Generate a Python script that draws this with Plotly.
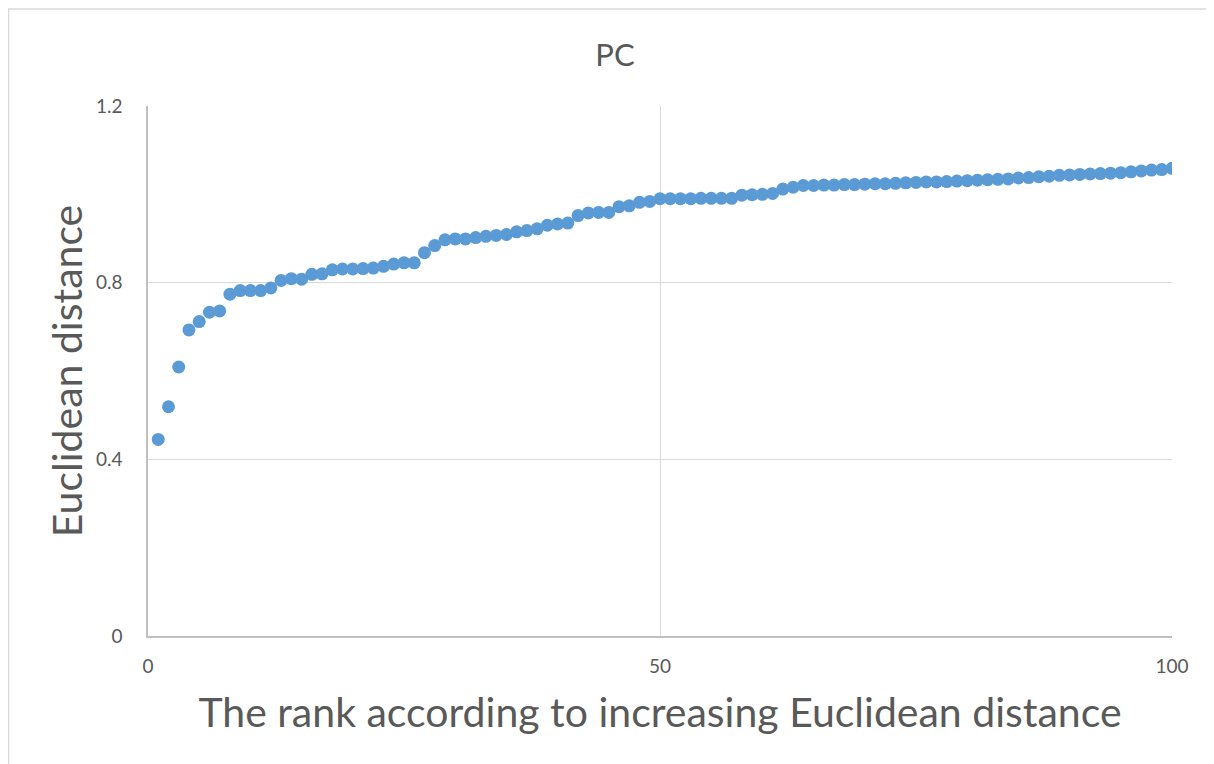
import plotly.graph_objects as go

ranks = list(range(1, 101))
distances = [
    0.445, 0.519, 0.609, 0.693, 0.712, 0.733, 0.736, 0.774, 0.782, 0.782,
    0.782, 0.788, 0.805, 0.809, 0.808, 0.819, 0.820, 0.829, 0.831, 0.831,
    0.832, 0.833, 0.837, 0.842, 0.845, 0.845, 0.868, 0.884, 0.897, 0.899,
    0.899, 0.902, 0.905, 0.907, 0.909, 0.915, 0.918, 0.922, 0.930, 0.933,
    0.935, 0.952, 0.958, 0.959, 0.959, 0.972, 0.974, 0.982, 0.984, 0.990,
    0.990, 0.990, 0.990, 0.991, 0.991, 0.991, 0.991, 0.998, 0.999, 1.000,
    1.002, 1.012, 1.016, 1.020, 1.020, 1.021, 1.021, 1.022, 1.022, 1.023,
    1.024, 1.024, 1.025, 1.026, 1.027, 1.028, 1.028, 1.029, 1.030, 1.031,
    1.032, 1.033, 1.034, 1.035, 1.037, 1.038, 1.040, 1.041, 1.043, 1.044,
    1.045, 1.046, 1.047, 1.048, 1.049, 1.051, 1.053, 1.055, 1.056, 1.059,
]
x_ticks = [0, 50, 100]
y_ticks = [0, 0.4, 0.8, 1.2]
y_tick_labels = ["0", "0.4", "0.8", "1.2"]

FONT = "Lato"
TXT = "#595959"

fig = go.Figure()
fig.add_trace(go.Scatter(
    x=ranks, y=distances, mode="markers",
    marker=dict(color="#5B9BD5", size=13, line=dict(width=0)),
    showlegend=False,
))

fig.update_layout(
    width=1214, height=764,
    margin=dict(l=140, r=50, t=98, b=136),
    paper_bgcolor="white", plot_bgcolor="white",
    font=dict(family=FONT, color=TXT),
    title=dict(text="PC", x=0.500, xanchor="center", y=0.9385, yanchor="middle",
               font=dict(family=FONT, size=31, color=TXT)),
    xaxis=dict(
        range=[0, 100], tickvals=x_ticks, ticktext=[str(v) for v in x_ticks],
        showgrid=True, gridcolor="#D9D9D9", gridwidth=1.3,
        showline=True, linecolor="#BFBFBF", linewidth=1.5,
        zeroline=False, ticks="", ticklabelstandoff=12,
        tickfont=dict(family=FONT, size=19, color=TXT),
        title=dict(text="The rank according to increasing Euclidean distance",
                   font=dict(family=FONT, size=41, color=TXT), standoff=23),
        automargin=False,
    ),
    yaxis=dict(
        range=[0, 1.2], tickvals=y_ticks, ticktext=y_tick_labels,
        showgrid=True, gridcolor="#D9D9D9", gridwidth=1.3,
        showline=True, linecolor="#BFBFBF", linewidth=1.5,
        zeroline=False, ticks="", ticklabelstandoff=20,
        tickfont=dict(family=FONT, size=19, color=TXT),
        title=dict(text="Euclidean distance",
                   font=dict(family=FONT, size=41, color=TXT), standoff=1),
        automargin=False,
    ),
    shapes=[dict(type="rect", xref="paper", yref="paper",
                 x0=-0.1362, x1=1.2, y0=-0.4, y1=1.183,
                 line=dict(color="#D9D9D9", width=1.5), fillcolor="rgba(0,0,0,0)",
                 layer="below")],
)

fig.write_html("out.html")
